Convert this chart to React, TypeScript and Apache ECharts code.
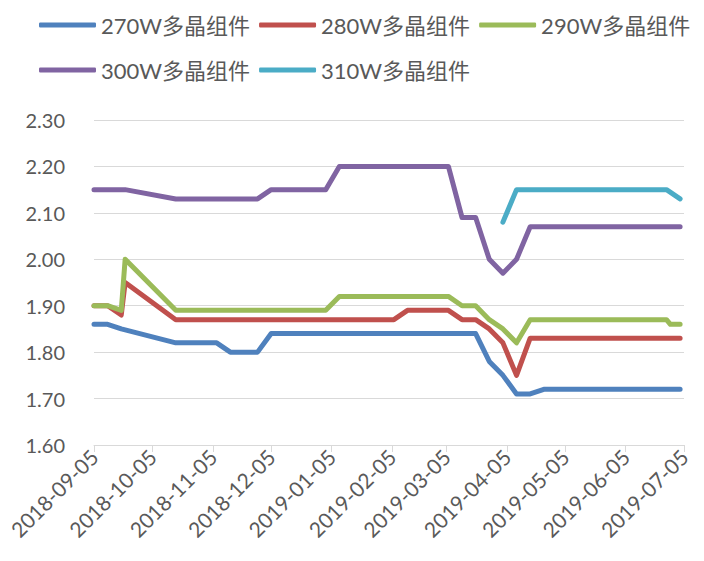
import React, { useEffect, useRef } from "react";
import * as echarts from "echarts";

const seriesNames = ["270W多晶组件", "280W多晶组件", "290W多晶组件", "300W多晶组件", "310W多晶组件"];
const colors = ["#4F81BD", "#C0504D", "#9BBB59", "#8064A2", "#4BACC6"];

const tickDates = [
  "2018-09-05", "2018-10-05", "2018-11-05", "2018-12-05", "2019-01-05", "2019-02-05",
  "2019-03-05", "2019-04-05", "2019-05-05", "2019-06-05", "2019-07-05",
];

const dates270 = ["2018-09-05", "2018-09-12", "2018-09-19", "2018-10-17", "2018-11-07", "2018-11-14", "2018-11-28", "2018-12-05", "2019-03-20", "2019-03-27", "2019-04-03", "2019-04-10", "2019-04-17", "2019-04-24", "2019-07-03"];
const values270 = [1.86, 1.86, 1.85, 1.82, 1.82, 1.80, 1.80, 1.84, 1.84, 1.78, 1.75, 1.71, 1.71, 1.72, 1.72];

const dates280 = ["2018-09-05", "2018-09-12", "2018-09-19", "2018-09-21", "2018-10-17", "2019-02-06", "2019-02-13", "2019-03-06", "2019-03-13", "2019-03-20", "2019-03-27", "2019-04-03", "2019-04-10", "2019-04-17", "2019-07-03"];
const values280 = [1.90, 1.90, 1.88, 1.95, 1.87, 1.87, 1.89, 1.89, 1.87, 1.87, 1.85, 1.82, 1.75, 1.83, 1.83];

const dates290 = ["2018-09-05", "2018-09-12", "2018-09-19", "2018-09-21", "2018-10-17", "2019-01-02", "2019-01-09", "2019-03-06", "2019-03-13", "2019-03-20", "2019-03-27", "2019-04-03", "2019-04-10", "2019-04-17", "2019-06-26", "2019-06-28", "2019-07-03"];
const values290 = [1.90, 1.90, 1.89, 2.00, 1.89, 1.89, 1.92, 1.92, 1.90, 1.90, 1.87, 1.85, 1.82, 1.87, 1.87, 1.86, 1.86];

const dates300 = ["2018-09-05", "2018-09-21", "2018-10-17", "2018-11-28", "2018-12-05", "2019-01-02", "2019-01-09", "2019-03-06", "2019-03-13", "2019-03-20", "2019-03-27", "2019-04-03", "2019-04-10", "2019-04-17", "2019-07-03"];
const values300 = [2.15, 2.15, 2.13, 2.13, 2.15, 2.15, 2.20, 2.20, 2.09, 2.09, 2.00, 1.97, 2.00, 2.07, 2.07];

const dates310 = ["2019-04-03", "2019-04-10", "2019-06-26", "2019-07-03"];
const values310 = [2.08, 2.15, 2.15, 2.13];

const allDates = [dates270, dates280, dates290, dates300, dates310];
const allValues = [values270, values280, values290, values300, values310];

const ts = (s: string) => {
  const [y, m, d] = s.split("-").map(Number);
  return new Date(y, m - 1, d).getTime();
};
const fmt = (v: number) => {
  const d = new Date(v);
  const p = (n: number) => String(n).padStart(2, "0");
  return `${d.getFullYear()}-${p(d.getMonth() + 1)}-${p(d.getDate())}`;
};

const FONT = "Lato, 'Noto Sans CJK SC', sans-serif";

export default function App() {
  const ref = useRef<HTMLDivElement>(null);
  useEffect(() => {
    document.body.style.margin = "0";
    if (!ref.current) return;
    const chart = echarts.init(ref.current, undefined, { renderer: "svg" });
    const tickTs = tickDates.map(ts);
    const legendCommon = {
      left: 39,
      width: 665,
      padding: 0,
      orient: "horizontal" as const,
      itemWidth: 57,
      itemHeight: 5,
      itemGap: 9,
      icon: "roundRect",
      textStyle: { fontSize: 22, color: "#595959", fontFamily: FONT },
    };
    chart.setOption({
      animation: false,
      textStyle: { fontFamily: FONT },
      legend: [
        { ...legendCommon, top: 14, data: seriesNames.slice(0, 3) },
        { ...legendCommon, top: 59, data: seriesNames.slice(3) },
      ],
      grid: { left: 94, right: 20, top: 120, bottom: 116 },
      xAxis: {
        type: "value",
        min: ts("2018-09-05"),
        max: ts("2019-07-05"),
        axisLine: { show: true, lineStyle: { color: "#d9d9d9", width: 1 } },
        axisTick: { show: true, length: 7, lineStyle: { color: "#d9d9d9" }, customValues: tickTs },
        axisLabel: {
          customValues: tickTs,
          rotate: 45,
          fontSize: 21,
          color: "#595959",
          fontFamily: FONT,
          margin: 8,
          formatter: (v: number) => fmt(v),
        },
        splitLine: { show: false },
      },
      yAxis: {
        type: "value",
        min: 1.6,
        max: 2.3,
        interval: 0.1,
        axisLine: { show: false },
        axisTick: { show: false },
        axisLabel: {
          fontSize: 20,
          color: "#595959",
          fontFamily: FONT,
          margin: 29,
          formatter: (v: number) => v.toFixed(2),
        },
        splitLine: { lineStyle: { color: "#d9d9d9", width: 1 } },
      },
      series: seriesNames.map((name, i) => ({
        name,
        type: "line",
        data: allDates[i].map((d, j) => [ts(d), allValues[i][j]]),
        showSymbol: false,
        symbol: "none",
        color: colors[i],
        lineStyle: { width: 5, color: colors[i], cap: "round", join: "round" },
      })),
    });
    return () => chart.dispose();
  }, []);
  return <div ref={ref} style={{ width: 704, height: 561 }} />;
}
